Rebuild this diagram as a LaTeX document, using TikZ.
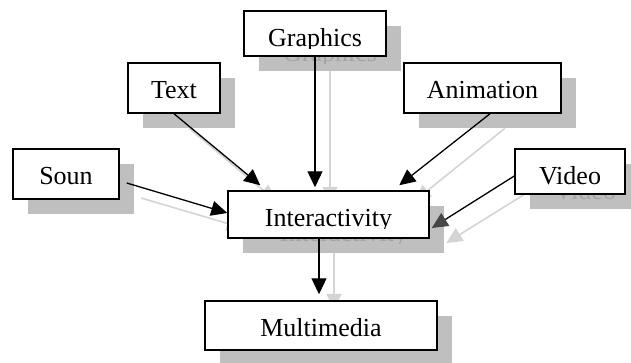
\documentclass[tikz,border=0pt]{standalone}
\usepackage{fontspec}
\setmainfont{Liberation Serif}
\usetikzlibrary{arrows.meta}
\definecolor{shadowgray}{HTML}{BFBFBF}
\definecolor{ghosttext}{HTML}{A4A4A4}
\definecolor{ghostline}{HTML}{D4D4D4}
\tikzset{
	boxlabel/.style={anchor=base, inner sep=0pt, font=\fontsize{26}{30}\selectfont},
	labelled/.style 2 args={path picture={
		\clip ([yshift=-37pt]path picture bounding box.north west) rectangle (path picture bounding box.north east);
		\node[boxlabel, text=#2] at ([yshift=-35.5pt]path picture bounding box.north) {#1};}},
	box/.style={draw, fill=white, line width=1.5pt, inner sep=0pt, labelled={#1}{black}},
	ghostbox/.style={fill=shadowgray, inner sep=0pt, labelled={#1}{ghosttext}},
	link/.style={line width=1.3pt, -{Triangle[length=16pt,width=15pt,color=#1]}},
	link/.default=black,
	ghostlink/.style={link=ghostline, draw=ghostline, line width=1.6pt}
}

\begin{document}
\begin{tikzpicture}[x=1pt,y=1pt]
	\useasboundingbox (0,0) rectangle (631,-362);
	% shadow copy of the whole chart
	\begin{scope}[shift={(15,-15)}]
		\node[ghostbox=Graphics, minimum width=142, minimum height=45] (ggfx) at (315,-33.5) {};
		\node[ghostbox=Text, minimum width=92, minimum height=50] (gtxt) at (174,-88) {};
		\node[ghostbox=Animation, minimum width=157, minimum height=50] (gani) at (482.5,-88) {};
		\node[ghostbox=Soun, minimum width=106, minimum height=50] (gsnd) at (66,-174) {};
		\node[ghostbox=Video, minimum width=110, minimum height=45] (gvid) at (570,-171.5) {};
		\node[ghostbox=Interactivity, minimum width=201, minimum height=47] (gint) at (328.5,-214.5) {};
		\node[ghostbox=Multimedia, minimum width=232, minimum height=49] (gmm) at (321,-325.5) {};
		\draw[ghostlink] (gtxt.south) -- ([shift={(33,5)}]gint.north west);
		\draw[ghostlink] (ggfx.south) -- ([yshift=3]ggfx.south |- gint.north);
		\draw[ghostlink] ([xshift=7.5]gani.south) -- ([shift={(172,5)}]gint.north west);
		\draw[ghostlink] ([shift={(7,-9)}]gsnd.east) -- ([yshift=1.5]gint.west);
		\draw[ghostlink] ([yshift=-4.5]gvid.west) -- ([shift={(2,-13.5)}]gint.east);
		\draw[ghostlink] ([xshift=-9.5]gint.south) -- ([shift={(-2,6)}]gmm.north);
	\end{scope}
	% the chart
	\node[box=Graphics, minimum width=142, minimum height=45] (gfx) at (315,-33.5) {};
	\node[box=Text, minimum width=92, minimum height=50] (txt) at (174,-88) {};
	\node[box=Animation, minimum width=157, minimum height=50] (ani) at (482.5,-88) {};
	\node[box=Soun, minimum width=106, minimum height=50] (snd) at (66,-174) {};
	\node[box=Video, minimum width=110, minimum height=45] (vid) at (570,-171.5) {};
	\node[box=Interactivity, minimum width=201, minimum height=47] (int) at (328.5,-214.5) {};
	\node[box=Multimedia, minimum width=232, minimum height=49] (mm) at (321,-325.5) {};
	\draw[link] (txt.south) -- ([shift={(33,5)}]int.north west);
	\draw[link] (gfx.south) -- ([yshift=3]gfx.south |- int.north);
	\draw[link] ([xshift=7.5]ani.south) -- ([shift={(172,5)}]int.north west);
	\draw[link] ([shift={(7,-9)}]snd.east) -- ([yshift=1.5]int.west);
	\draw[link=black!72] ([yshift=-4.5]vid.west) -- ([shift={(2,-13.5)}]int.east);
	\draw[link] ([xshift=-9.5]int.south) -- ([shift={(-2,6)}]mm.north);
\end{tikzpicture}
\end{document}
